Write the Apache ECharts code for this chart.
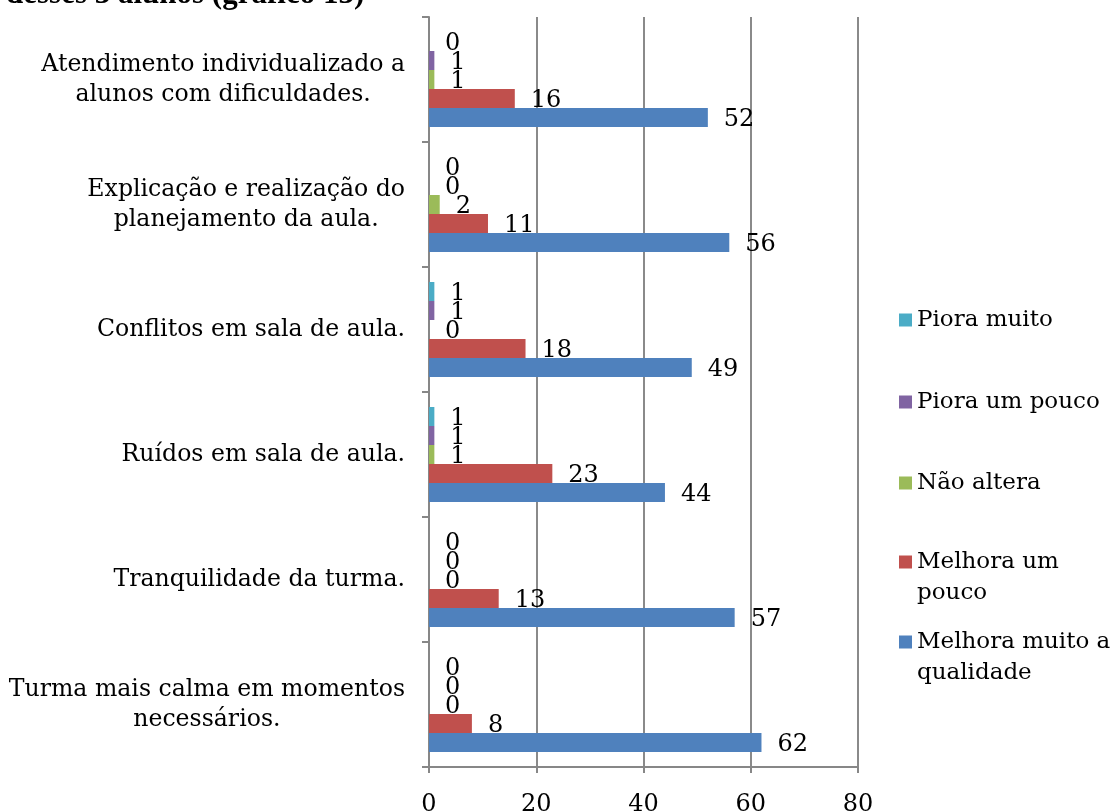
<!DOCTYPE html>
<html>
<head>
<meta charset="utf-8">
<script src="https://cdn.jsdelivr.net/npm/echarts@6/dist/echarts.min.js"></script>
<style>
  html, body { margin: 0; padding: 0; background: #fff; }
  #chart { width: 1117px; height: 812px; }
</style>
</head>
<body>
<div id="chart"></div>
<script>
// Categories, bottom to top
const categories = [
  'Turma mais calma em momentos\nnecessários.',
  'Tranquilidade da turma.',
  'Ruídos em sala de aula.',
  'Conflitos em sala de aula.',
  'Explicação e realização do\nplanejamento da aula.',
  'Atendimento individualizado a\nalunos com dificuldades.'
];

// Series names, top bar of each group first
const seriesNames = [
  'Piora muito',
  'Piora um pouco',
  'Não altera',
  'Melhora um pouco',
  'Melhora muito a qualidade'
];

// Values per series, same order as categories
const pioraMuito   = [0, 0, 1, 1, 0, 0];
const pioraPouco   = [0, 0, 1, 1, 0, 1];
const naoAltera    = [0, 0, 1, 0, 2, 1];
const melhoraPouco = [8, 13, 23, 18, 11, 16];
const melhoraMuito = [62, 57, 44, 49, 56, 52];

const xTicks = [0, 20, 40, 60, 80];

const seriesValues = [pioraMuito, pioraPouco, naoAltera, melhoraPouco, melhoraMuito];
const colors = ['#4BACC6', '#8064A2', '#9BBB59', '#C0504D', '#4F81BD'];

const FONT = 'DejaVu Serif';
const FS = 24;
const CAT_FS = 23.6;
const LEG_FS = 23;
const LH = 31;

// Legend entries, top to bottom, with the vertical centre of the first line.
// Two-line entries get an empty leading line so the swatch sits on the first line.
const legendRows = [
  { name: 'Piora muito', label: 'Piora muito', c: 320 },
  { name: 'Piora um pouco', label: 'Piora um pouco', c: 402 },
  { name: 'Não altera', label: 'Não altera', c: 483 },
  { name: 'Melhora um pouco', label: ' \nMelhora um\npouco', c: 562 },
  { name: 'Melhora muito a qualidade', label: ' \nMelhora muito a\nqualidade', c: 642 }
];

const legends = legendRows.map(r => {
  const lines = r.label.split('\n').length;
  return {
    data: [r.name],
    orient: 'vertical',
    left: 899,
    top: r.c - lines * LH / 2,
    padding: 0,
    icon: 'rect',
    itemWidth: 13,
    itemHeight: 13,
    itemGap: 0,
    selectedMode: false,
    formatter: () => r.label,
    textStyle: { fontFamily: FONT, fontSize: LEG_FS, color: '#000', lineHeight: LH }
  };
});

const chart = echarts.init(document.getElementById('chart'), null, { renderer: 'canvas' });

chart.setOption({
  backgroundColor: '#fff',
  animation: false,
  color: colors,
  graphic: [{
    type: 'text',
    left: 6,
    top: -21,
    style: {
      text: 'desses 3 alunos (gráfico 13)',
      font: 'bold 31px "Liberation Serif"',
      fill: '#000'
    }
  }],
  legend: legends,
  grid: {
    left: 429, right: 259, top: 17, bottom: 45,
    containLabel: false,
    outerBoundsMode: 'none'
  },
  xAxis: {
    type: 'value',
    min: xTicks[0],
    max: xTicks[xTicks.length - 1],
    interval: xTicks[1] - xTicks[0],
    axisLine: { show: true, lineStyle: { color: '#878787', width: 2 } },
    axisTick: { show: true, length: 6, lineStyle: { color: '#878787', width: 2 } },
    splitLine: { show: true, lineStyle: { color: '#8a8a8a', width: 2 } },
    axisLabel: { fontFamily: FONT, fontSize: FS, color: '#000', margin: 26 }
  },
  yAxis: {
    type: 'category',
    data: categories,
    axisLine: { show: true, lineStyle: { color: '#878787', width: 2 } },
    axisTick: { show: true, length: 7, lineStyle: { color: '#878787', width: 2 } },
    splitLine: { show: false },
    axisLabel: {
      margin: 24,
      align: 'right',
      // each line centred within the right-anchored block
      formatter: v => v.split('\n').map(s => '{c|' + s + '}').join('\n'),
      rich: {
        c: { align: 'center', fontFamily: FONT, fontSize: CAT_FS, color: '#000', lineHeight: 30 }
      }
    }
  },
  series: seriesNames.map((name, i) => ({
    name: name,
    type: 'bar',
    data: seriesValues[i],
    barWidth: 19,
    barGap: '0%',
    itemStyle: { color: colors[i] },
    label: {
      show: true,
      position: 'right',
      distance: 16,
      offset: [0, 2],
      fontFamily: FONT,
      fontSize: FS,
      color: '#000'
    }
  }))
});
</script>
</body>
</html>
